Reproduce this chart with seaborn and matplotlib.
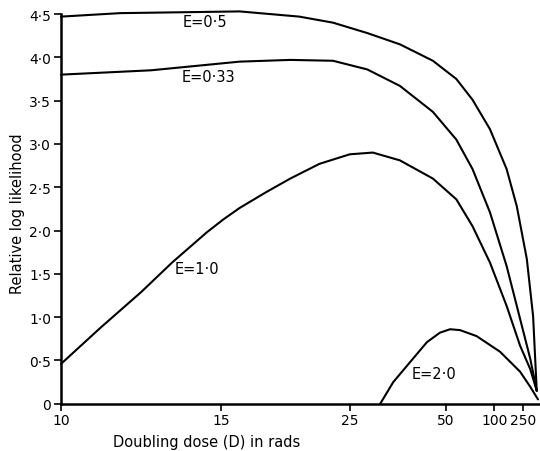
import numpy as np
import pandas as pd
import matplotlib
matplotlib.use('Agg')
import matplotlib.pyplot as plt
import seaborn as sns

# Doubling dose D (rads) and relative log likelihood
dose_e05 = [10, 11.4, 13.3, 15.9, 19.8, 23.0, 27.5, 33.8, 44, 56, 69, 92, 135, 189, 312, 526, 870]
llh_e05 = [4.47, 4.51, 4.52, 4.53, 4.47, 4.40, 4.28, 4.15, 3.96, 3.75, 3.51, 3.17, 2.71, 2.28, 1.67, 1.01, 0.15]

dose_e033 = [10, 12.3, 15.9, 19.1, 23.0, 27.5, 33.8, 44, 56, 69, 92, 135, 217, 400, 870]
llh_e033 = [3.80, 3.85, 3.95, 3.97, 3.96, 3.86, 3.67, 3.37, 3.05, 2.71, 2.21, 1.59, 0.98, 0.52, 0.15]

dose_e10 = [10, 10.9, 12.0, 13.0, 14.35, 15.1, 15.9, 17.4, 19.1, 21.6, 25.0, 28.4, 33.8, 44, 56, 69, 92, 135, 217, 400, 870]
llh_e10 = [0.46, 0.88, 1.29, 1.63, 1.98, 2.13, 2.26, 2.44, 2.60, 2.77, 2.88, 2.90, 2.81, 2.60, 2.36, 2.05, 1.63, 1.13, 0.67, 0.40, 0.15]

dose_e20 = [29.7, 32.3, 36.4, 41.7, 47.0, 52.2, 58.5, 73.4, 114, 217, 392, 1130]
llh_e20 = [0.0, 0.25, 0.48, 0.71, 0.82, 0.86, 0.85, 0.78, 0.60, 0.37, 0.20, 0.05]

curve_names = ['E=0·5', 'E=0·33', 'E=1·0', 'E=2·0']
x_ticks = [10, 15, 25, 50, 100, 250]
y_ticks = [0, 0.5, 1.0, 1.5, 2.0, 2.5, 3.0, 3.5, 4.0, 4.5]


def fmt_y(v):
    return '0' if v == 0 else f'{v:.1f}'.replace('.', '·')


sns.set_theme(style='ticks')
plt.rcParams['font.family'] = ['DejaVu Sans']
plt.rcParams['text.color'] = 'black'
plt.rcParams['axes.labelcolor'] = 'black'

fig = plt.figure(figsize=(5.4, 4.52), dpi=100)
ax = fig.add_axes([0.113, 0.1046, 0.887, 0.8622])

curves = [(dose_e05, llh_e05), (dose_e033, llh_e033), (dose_e10, llh_e10), (dose_e20, llh_e20)]
for (dose, llh), name in zip(curves, curve_names):
    df = pd.DataFrame({'inv_dose': 1.0 / np.array(dose), 'llh': llh})
    sns.lineplot(data=df, x='inv_dose', y='llh', ax=ax, color='black', linewidth=1.5,
                 sort=False, estimator=None, clip_on=False)

# the dose axis runs in 1/D, so D = infinity sits just past the right edge
ax.set_xlim(0.1, 0.00047)
ax.set_ylim(0, 4.5)
ax.set_xticks([1.0 / d for d in x_ticks])
ax.set_xticklabels([str(d) for d in x_ticks])
ax.set_yticks(y_ticks)
ax.set_yticklabels([fmt_y(v) for v in y_ticks])
ax.tick_params(axis='both', direction='out', length=5, width=1.2, labelsize=10, colors='black', pad=2)

sns.despine(ax=ax)
for side in ['left', 'bottom']:
    ax.spines[side].set_linewidth(1.8)
    ax.spines[side].set_color('black')

# curve labels
label_pos = [(0.0701, 4.41), (0.0694, 3.78), (0.0717, 1.56), (0.0226, 0.35)]
for name, (u, v) in zip(curve_names, label_pos):
    ax.text(u, v, name, ha='center', va='center', fontsize=10.5)

ax.set_xlabel('Doubling dose (D) in rads', fontsize=10.5)
ax.set_ylabel('Relative log likelihood', fontsize=10.5)
ax.xaxis.set_label_coords(0.305, -0.078)
ax.yaxis.set_label_coords(-0.075, 0.49)

fig.savefig('out.png', dpi=100)
